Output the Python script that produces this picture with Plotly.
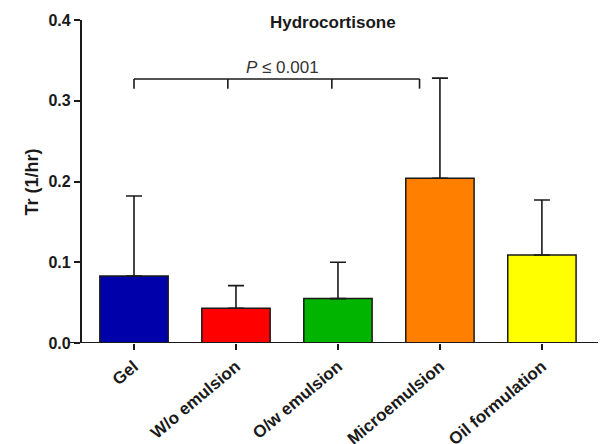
import plotly.graph_objects as go

# Transfer rate of hydrocortisone per formulation (mean and upper SD)
categories = ["Gel", "W/o emulsion", "O/w emulsion", "Microemulsion", "Oil formulation"]
tr_mean = [0.083, 0.043, 0.055, 0.204, 0.109]
tr_sd = [0.099, 0.028, 0.045, 0.124, 0.068]
bar_colors = ["#0000AA", "#FF0000", "#00B400", "#FF8000", "#FFFF00"]
y_ticks = [0.0, 0.1, 0.2, 0.3, 0.4]

# Significance bracket: drop positions along the bracket and its height
bracket_x = [0, 0.92, 1.94, 2.8]
bracket_y = 0.327
bracket_drop = 0.012
p_label = "<i>P</i> ≤ 0.001"

FONT = "Arial, Liberation Sans, sans-serif"
INK = "#1a1a1a"

x_pos = list(range(len(categories)))

fig = go.Figure()
fig.add_trace(go.Bar(
    x=x_pos,
    y=tr_mean,
    width=0.67,
    marker=dict(color=bar_colors, line=dict(color=INK, width=1.5)),
    error_y=dict(type="data", array=tr_sd, arrayminus=[0] * len(tr_sd),
                 symmetric=False, color=INK, thickness=1.6, width=8),
    showlegend=False,
))

# Bracket across the compared groups
fig.add_shape(type="line", xref="x", yref="y",
              x0=bracket_x[0], x1=bracket_x[-1], y0=bracket_y, y1=bracket_y,
              line=dict(color=INK, width=1.6))
for bx in bracket_x:
    fig.add_shape(type="line", xref="x", yref="y",
                  x0=bx, x1=bx, y0=bracket_y, y1=bracket_y - bracket_drop,
                  line=dict(color=INK, width=1.6))

fig.add_annotation(x=1.46, y=bracket_y, xref="x", yref="y",
                   text=p_label, showarrow=False, yanchor="bottom", yshift=0,
                   font=dict(family=FONT, size=17, color="#333333"))

# Title
fig.add_annotation(x=1.95, y=0.4, xref="x", yref="y", text="<b>Hydrocortisone</b>",
                   showarrow=False, yanchor="middle", yshift=-2,
                   font=dict(family=FONT, size=17, color=INK))

# Y-axis title
fig.add_annotation(x=-0.097, y=0.2, xref="paper", yref="y", text="<b>Tr (1/hr)</b>",
                   textangle=-90, showarrow=False, xanchor="center", yanchor="middle",
                   font=dict(family=FONT, size=18, color=INK))

# X-axis baseline, extended slightly past the y-axis
fig.add_shape(type="line", xref="paper", yref="y", x0=-0.027, x1=1.0, y0=0, y1=0,
              line=dict(color=INK, width=2.2))

fig.update_layout(
    template="none",
    width=600, height=444,
    margin=dict(l=82, r=2, t=20, b=101),
    paper_bgcolor="white", plot_bgcolor="white",
    font=dict(family=FONT, color=INK),
)
fig.update_xaxes(
    range=[-0.51, 4.55],
    tickmode="array", tickvals=x_pos, ticktext=[f"<b>{c}</b>" for c in categories],
    tickangle=-40, ticks="outside", ticklen=6, tickwidth=2, tickcolor=INK,
    ticklabelstandoff=0,
    tickfont=dict(family=FONT, size=17, color=INK),
    showline=False, showgrid=False, zeroline=False, automargin=False,
)
fig.update_yaxes(
    range=[0, 0.4],
    tickmode="array", tickvals=y_ticks, ticktext=[f"<b>{v:.1f}</b>" for v in y_ticks],
    ticks="outside", ticklen=6, tickwidth=2, tickcolor=INK,
    tickfont=dict(family=FONT, size=16, color=INK),
    showline=True, linecolor=INK, linewidth=2.2,
    showgrid=False, zeroline=False, automargin=False,
)

fig.write_html("out.html")
